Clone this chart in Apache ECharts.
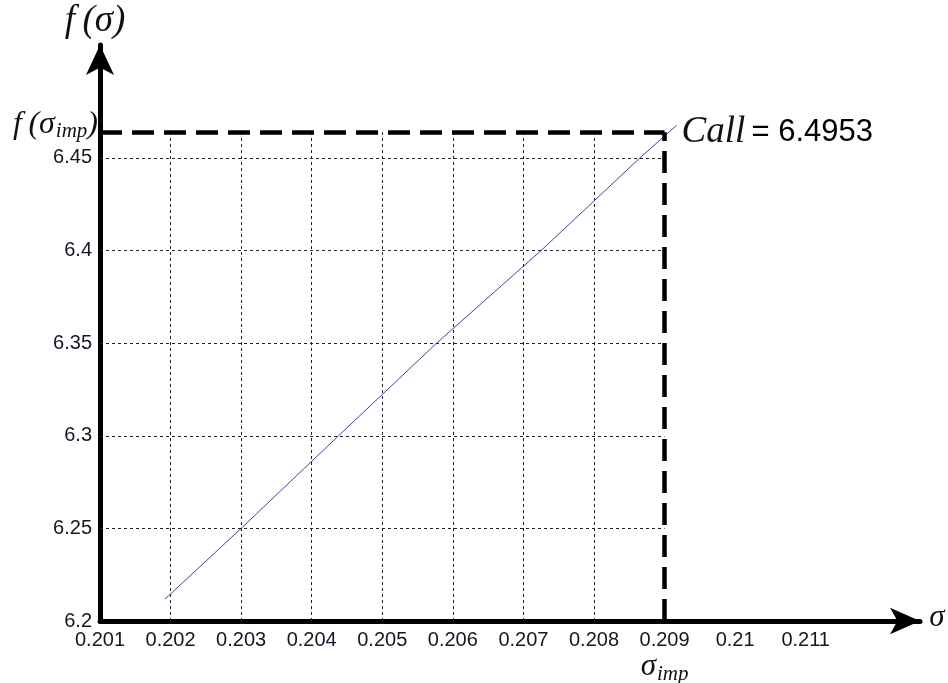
<!DOCTYPE html>
<html>
<head>
<meta charset="utf-8">
<script src="https://cdn.jsdelivr.net/npm/echarts@6/dist/echarts.min.js"></script>
<style>html,body{margin:0;padding:0;background:#fff;}#c{width:948px;height:683px;}</style>
</head>
<body>
<div id="c"></div>
<script>
// ---- data ----
const sigma  = [0.20192, 0.203, 0.20438, 0.20577, 0.20725, 0.20865, 0.20917];
const fValue = [6.2118, 6.25, 6.3, 6.35, 6.4, 6.45, 6.4676];
const xTicks = [0.201, 0.202, 0.203, 0.204, 0.205, 0.206, 0.207, 0.208, 0.209, 0.21, 0.211];
const yTicks = [6.2, 6.25, 6.3, 6.35, 6.4, 6.45];
const sigmaImp = 0.209;
const fImp = 6.4639;
const callPrice = '6.4953';

const xMin = 0.201, xMax = 0.21262, yMin = 6.2, yMax = 6.511;

const gridLines = [];
xTicks.filter(v => v > xMin && v < sigmaImp).forEach(v => {
  gridLines.push([{coord: [v, yMin]}, {coord: [v, fImp]}]);
});
yTicks.filter(v => v > yMin).forEach(v => {
  gridLines.push([{coord: [xMin, v]}, {coord: [sigmaImp, v]}]);
});

const chart = echarts.init(document.getElementById('c'));
const labelFont = {fontFamily: 'Liberation Sans', fontSize: 20, color: '#15152a'};

chart.setOption({
  animation: false,
  grid: {left: 100, right: 28, top: 45, bottom: 62, containLabel: false},
  xAxis: {
    type: 'value', min: xMin, max: xMax, interval: 0.001,
    splitLine: {show: false},
    axisTick: {show: false},
    axisLine: {onZero: false, symbol: ['none', 'arrow'], symbolSize: [20, 30],
      lineStyle: {color: '#000', width: 5}},
    axisLabel: Object.assign({margin: 9, showMaxLabel: false,
      formatter: v => v > 0.2115 ? '' : String(parseFloat(v.toFixed(3)))}, labelFont)
  },
  yAxis: {
    type: 'value', min: yMin, max: yMax, interval: 0.05,
    splitLine: {show: false},
    axisTick: {show: false},
    axisLine: {onZero: false, symbol: ['none', 'arrow'], symbolSize: [21, 30],
      lineStyle: {color: '#000', width: 5}},
    axisLabel: Object.assign({margin: 8, showMaxLabel: false,
      formatter: v => v > 6.46 ? '' : String(parseFloat(v.toFixed(2)))}, labelFont)
  },
  series: [
    {
      type: 'line', data: [], z: 1, silent: true,
      markLine: {
        silent: true, symbol: 'none', animation: false,
        label: {show: false},
        lineStyle: {color: '#222', width: 1, type: [3, 3]},
        data: gridLines.concat([
          [{coord: [xMin, fImp], lineStyle: {color: '#000', width: 4.5, type: [22, 10]}},
           {coord: [sigmaImp, fImp]}],
          [{coord: [sigmaImp, yMin], lineStyle: {color: '#000', width: 4.5, type: [22, 10]}},
           {coord: [sigmaImp, fImp]}]
        ])
      }
    },
    {
      type: 'line', z: 3,
      data: sigma.map((s, i) => [s, fValue[i]]),
      showSymbol: false, symbol: 'none',
      lineStyle: {color: '#3a3aff', width: 1}
    }
  ]
});

const pImp = chart.convertToPixel({gridIndex: 0}, [sigmaImp, fImp]);
const p0 = chart.convertToPixel({gridIndex: 0}, [xMin, yMin]);
const serif = 'Liberation Serif';
const hs = '\u2009';
chart.setOption({
  graphic: [
    {type: 'text', x: p0[0] - 5, y: 21, style: {text: 'f' + hs + '(σ)', font: 'italic 37px ' + serif,
      fill: '#111', align: 'center', verticalAlign: 'middle'}},
    {type: 'text', x: 937, y: p0[1] - 3, style: {text: 'σ', font: 'italic 31px ' + serif,
      fill: '#111', align: 'center', verticalAlign: 'middle'}},
    {type: 'text', x: p0[0] - 2, y: pImp[1] - 8, style: {
      text: '{a|f' + hs + '(σ}{b|imp}{a|)}', align: 'right', verticalAlign: 'middle',
      rich: {a: {font: 'italic 32px ' + serif, fill: '#111', lineHeight: 36},
             b: {font: 'italic 21px ' + serif, fill: '#111', lineHeight: 36, padding: [15, 0, 0, 1]}}}},
    {type: 'text', x: pImp[0], y: 667, style: {
      text: '{a|σ}{b|imp}', align: 'center', verticalAlign: 'middle',
      rich: {a: {font: 'italic 31px ' + serif, fill: '#111', lineHeight: 36},
             b: {font: 'italic 21px ' + serif, fill: '#111', lineHeight: 36, padding: [15, 0, 0, 1]}}}},
    {type: 'text', x: pImp[0] + 17, y: pImp[1], style: {
      text: '{a|Call}{b|' + hs + '= ' + callPrice + '}', align: 'left', verticalAlign: 'middle',
      rich: {a: {font: 'italic 37px ' + serif, fill: '#111'},
             b: {font: '31px Liberation Sans', fill: '#000'}}}}
  ]
});
</script>
</body>
</html>
